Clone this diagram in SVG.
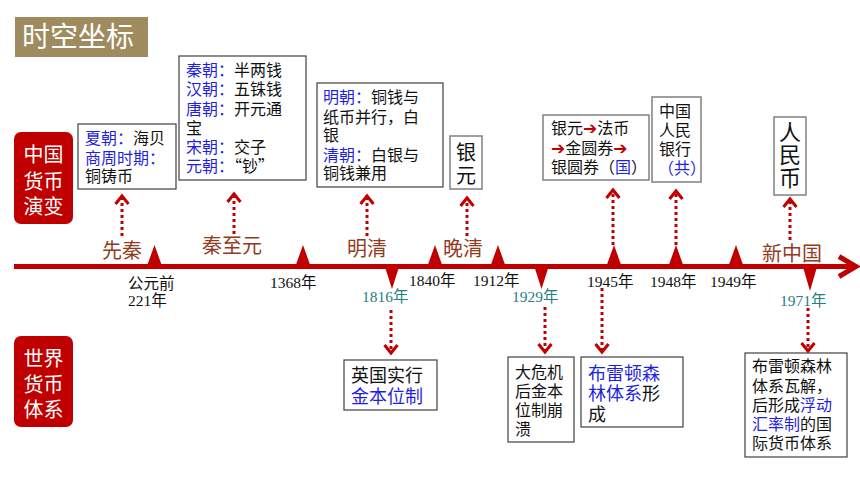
<svg xmlns="http://www.w3.org/2000/svg" width="860" height="484" viewBox="0 0 860 484">
<defs>
<style>
text{font-family:"Noto Sans CJK SC","Noto Sans",sans-serif;fill:#111}
.b{fill:#1F1FE0}
.t16{font-size:16px}
.t18{font-size:18px}
.box{fill:#fff;stroke:#404040;stroke-width:1.2}
.gbox{fill:#fff;stroke:#808080;stroke-width:1.5}
.side{fill:#C00000}
.sidet{fill:#fff;font-size:20px}
.period{fill:#923C1E;font-size:20px}
.yr{font-family:"Liberation Serif","Noto Sans CJK SC",serif;font-size:15.5px;fill:#111}
.yt{font-family:"Liberation Serif","Noto Sans CJK SC",serif;font-size:15.5px;fill:#26807F}
.tri{fill:#C00000}
.dot{stroke:#C00000;stroke-width:3;stroke-dasharray:3 3;fill:none;marker-end:url(#chev)}
.arr{font-family:"DejaVu Sans",sans-serif;fill:#C00000;font-size:17px}
.vt{writing-mode:vertical-rl}
</style>
<marker id="chev" markerUnits="userSpaceOnUse" markerWidth="16" markerHeight="16" refX="10" refY="8" orient="auto">
<path d="M2,1.5 L10,8 L2,14.5" fill="none" stroke="#C00000" stroke-width="3"/>
</marker>
</defs>
<rect width="860" height="484" fill="#fff"/>

<g id="title">
<rect x="15" y="17" width="133" height="40" fill="#A08B5F"/>
<text x="22" y="47" style="font-size:28px;fill:#fff">时空坐标</text>
</g>

<g id="label-china">
<rect class="side" x="14" y="132" width="59" height="92" rx="7"/>
<text class="sidet"><tspan x="23.5" y="162">中国</tspan><tspan x="23.5" y="189">货币</tspan><tspan x="23.5" y="214">演变</tspan></text>
</g>
<g id="label-world">
<rect class="side" x="14" y="336" width="59" height="91" rx="7"/>
<text class="sidet"><tspan x="23.5" y="366">世界</tspan><tspan x="23.5" y="392">货币</tspan><tspan x="23.5" y="417">体系</tspan></text>
</g>

<g id="timeline">
<line x1="14" y1="266.5" x2="854" y2="266.5" stroke="#C00000" stroke-width="5"/>
<polyline points="839,256.5 856,266.5 839,276.5" fill="none" stroke="#C00000" stroke-width="5"/>
<polygon class="tri" points="147,266 154.5,245 162,266"/>
<polygon class="tri" points="295.5,266 303,245 310.5,266"/>
<polygon class="tri" points="427.5,266 435,245 442.5,266"/>
<polygon class="tri" points="490.5,266 498,245 505.5,266"/>
<polygon class="tri" points="606.5,266 614,245 621.5,266"/>
<polygon class="tri" points="668.5,266 676,245 683.5,266"/>
<polygon class="tri" points="728.5,266 736,245 743.5,266"/>
<polygon class="tri" points="385,267 392,289 399,267"/>
<polygon class="tri" points="534.5,267 541.5,289 548.5,267"/>
<polygon class="tri" points="803,267 810,291 817,267"/>
</g>

<g id="periods">
<text class="period" x="102" y="258">先秦</text>
<text class="period" x="202" y="253">秦至元</text>
<text class="period" x="347" y="256">明清</text>
<text class="period" x="443" y="256">晚清</text>
<text class="period" x="762" y="261">新中国</text>
</g>

<g id="years">
<text class="yr"><tspan x="128" y="289">公元前</tspan><tspan x="128" y="306">221年</tspan></text>
<text class="yr" x="270" y="288">1368年</text>
<text class="yr" x="409" y="286">1840年</text>
<text class="yr" x="473" y="286">1912年</text>
<text class="yr" x="587" y="287">1945年</text>
<text class="yr" x="650" y="287">1948年</text>
<text class="yr" x="710" y="287">1949年</text>
<text class="yt" x="362" y="302">1816年</text>
<text class="yt" x="512" y="302">1929年</text>
<text class="yt" x="780" y="306">1971年</text>
</g>

<g id="connectors">
<line class="dot" x1="122" y1="236" x2="122" y2="196"/>
<line class="dot" x1="234" y1="234" x2="234" y2="194"/>
<line class="dot" x1="367" y1="236" x2="367" y2="196"/>
<line class="dot" x1="467" y1="236" x2="467" y2="198"/>
<line class="dot" x1="613" y1="245" x2="613" y2="190"/>
<line class="dot" x1="676" y1="245" x2="676" y2="191"/>
<line class="dot" x1="790" y1="240" x2="790" y2="199"/>
<line class="dot" x1="391" y1="310" x2="391" y2="353"/>
<line class="dot" x1="545" y1="307" x2="545" y2="352"/>
<line class="dot" x1="602" y1="288" x2="602" y2="352"/>
<line class="dot" x1="808" y1="308" x2="808" y2="351"/>
</g>

<g id="box-xia">
<rect class="box" x="78" y="124" width="98" height="65"/>
<text class="t16"><tspan x="85" y="143.5"><tspan class="b">夏朝：</tspan>海贝</tspan><tspan class="b" x="85" y="163.5">商周时期：</tspan><tspan x="85" y="182">铜铸币</tspan></text>
</g>

<g id="box-qin">
<rect class="box" x="179" y="56" width="127" height="124"/>
<text class="t16"><tspan x="186" y="76"><tspan class="b">秦朝：</tspan>半两钱</tspan><tspan x="186" y="95"><tspan class="b">汉朝：</tspan>五铢钱</tspan><tspan x="186" y="114.5"><tspan class="b">唐朝：</tspan>开元通</tspan><tspan x="186" y="134">宝</tspan><tspan x="186" y="153"><tspan class="b">宋朝：</tspan>交子</tspan><tspan x="186" y="172"><tspan class="b">元朝：</tspan>“钞”</tspan></text>
</g>

<g id="box-ming">
<rect class="box" x="317" y="83" width="126" height="104"/>
<text class="t16"><tspan x="323" y="103"><tspan class="b">明朝：</tspan>铜钱与</tspan><tspan x="323" y="122.5">纸币并行，白</tspan><tspan x="323" y="141">银</tspan><tspan x="323" y="160.5"><tspan class="b">清朝：</tspan>白银与</tspan><tspan x="323" y="179">铜钱兼用</tspan></text>
</g>

<g id="box-yinyuan">
<rect class="gbox" x="450" y="136" width="32" height="53"/>
<text class="vt" x="466" y="142" style="font-size:20px;letter-spacing:3px">银元</text>
</g>

<g id="box-fabi">
<rect class="gbox" x="543" y="115" width="106" height="65"/>
<text class="t16"><tspan x="551" y="134">银元<tspan class="arr">➔</tspan>法币</tspan><tspan x="551" y="154"><tspan class="arr">➔</tspan>金圆券<tspan class="arr">➔</tspan></tspan><tspan x="551" y="173">银圆券（<tspan class="b">国</tspan>）</tspan></text>
</g>

<g id="box-pboc">
<rect class="gbox" x="652" y="97" width="49" height="85"/>
<text class="t16"><tspan x="659" y="117">中国</tspan><tspan x="659" y="136">人民</tspan><tspan x="659" y="155">银行</tspan><tspan class="b" x="658" y="174">（共）</tspan></text>
</g>

<g id="box-rmb">
<rect class="gbox" x="774" y="117" width="32" height="78"/>
<text class="vt" x="790" y="121" style="font-size:22px;letter-spacing:1px">人民币</text>
</g>

<g id="box-gold">
<rect class="box" x="344" y="360" width="93" height="50"/>
<text class="t18"><tspan x="351" y="381.5">英国实行</tspan><tspan class="b" x="351" y="402.5">金本位制</tspan></text>
</g>

<g id="box-crisis">
<rect class="box" x="508" y="357" width="66" height="85"/>
<text class="t16"><tspan x="515" y="378">大危机</tspan><tspan x="515" y="397">后金本</tspan><tspan x="515" y="416">位制崩</tspan><tspan x="515" y="434.5">溃</tspan></text>
</g>

<g id="box-bretton">
<rect class="box" x="581" y="357" width="102" height="70"/>
<text class="t18"><tspan class="b" x="588" y="379.5">布雷顿森</tspan><tspan x="588" y="399.5"><tspan class="b">林体系</tspan>形</tspan><tspan x="588" y="420.5">成</tspan></text>
</g>

<g id="box-collapse">
<rect class="box" x="745" y="353" width="102" height="104"/>
<text class="t16"><tspan x="752" y="372">布雷顿森林</tspan><tspan x="752" y="392">体系瓦解，</tspan><tspan x="752" y="411">后形成<tspan class="b">浮动</tspan></tspan><tspan x="752" y="430"><tspan class="b">汇率制</tspan>的国</tspan><tspan x="752" y="449">际货币体系</tspan></text>
</g>
</svg>
